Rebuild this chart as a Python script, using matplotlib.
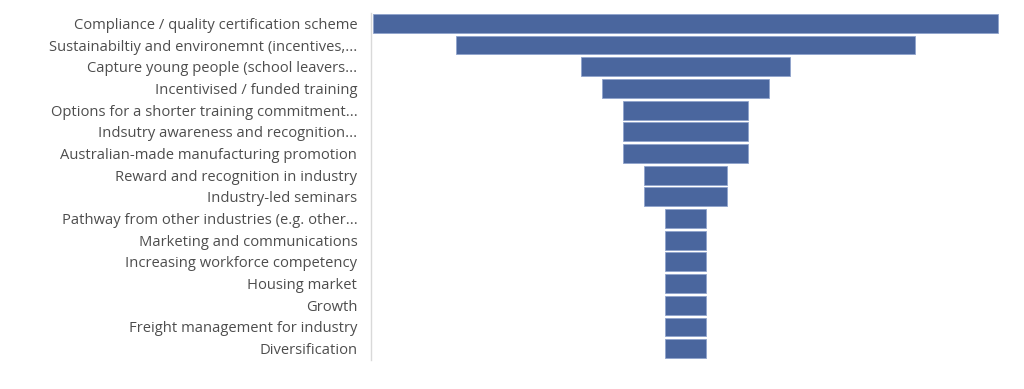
import matplotlib
matplotlib.use("Agg")
import matplotlib.pyplot as plt

categories = [
    "Compliance / quality certification scheme",
    "Sustainabiltiy and environemnt (incentives,...",
    "Capture young people (school leavers...",
    "Incentivised / funded training",
    "Options for a shorter training commitment...",
    "Indsutry awareness and recognition...",
    "Australian-made manufacturing promotion",
    "Reward and recognition in industry",
    "Industry-led seminars",
    "Pathway from other industries (e.g. other...",
    "Marketing and communications",
    "Increasing workforce competency",
    "Housing market",
    "Growth",
    "Freight management for industry",
    "Diversification",
]
values = [15, 11, 5, 4, 3, 3, 3, 2, 2, 1, 1, 1, 1, 1, 1, 1]

plt.rcParams['font.family'] = ['Open Sans', 'DejaVu Sans']

fig = plt.figure(figsize=(10.24, 3.89), dpi=100)
ax = fig.add_axes([370.5/1024, 1 - 359.5/389, 630/1024, 347/389])

y = list(range(len(categories)))
lefts = [-v / 2 for v in values]
ax.barh(y, values, left=lefts, height=0.87, color="#4A669E",
        edgecolor="#8FA3CC", linewidth=0.6)

ax.set_xlim(-7.55, 7.55)
ax.set_ylim(len(categories) - 0.5, -0.5)
ax.set_yticks(y)
ax.set_yticklabels(categories, fontsize=10.6, color="#4D4D4D")
ax.tick_params(axis='y', length=0, pad=9.5)
ax.set_xticks([])
for s in ["top", "right", "bottom"]:
    ax.spines[s].set_visible(False)
ax.spines["left"].set_color("#D9D9D9")
ax.spines["left"].set_linewidth(1)

fig.savefig("out.png", dpi=100, facecolor="white")
